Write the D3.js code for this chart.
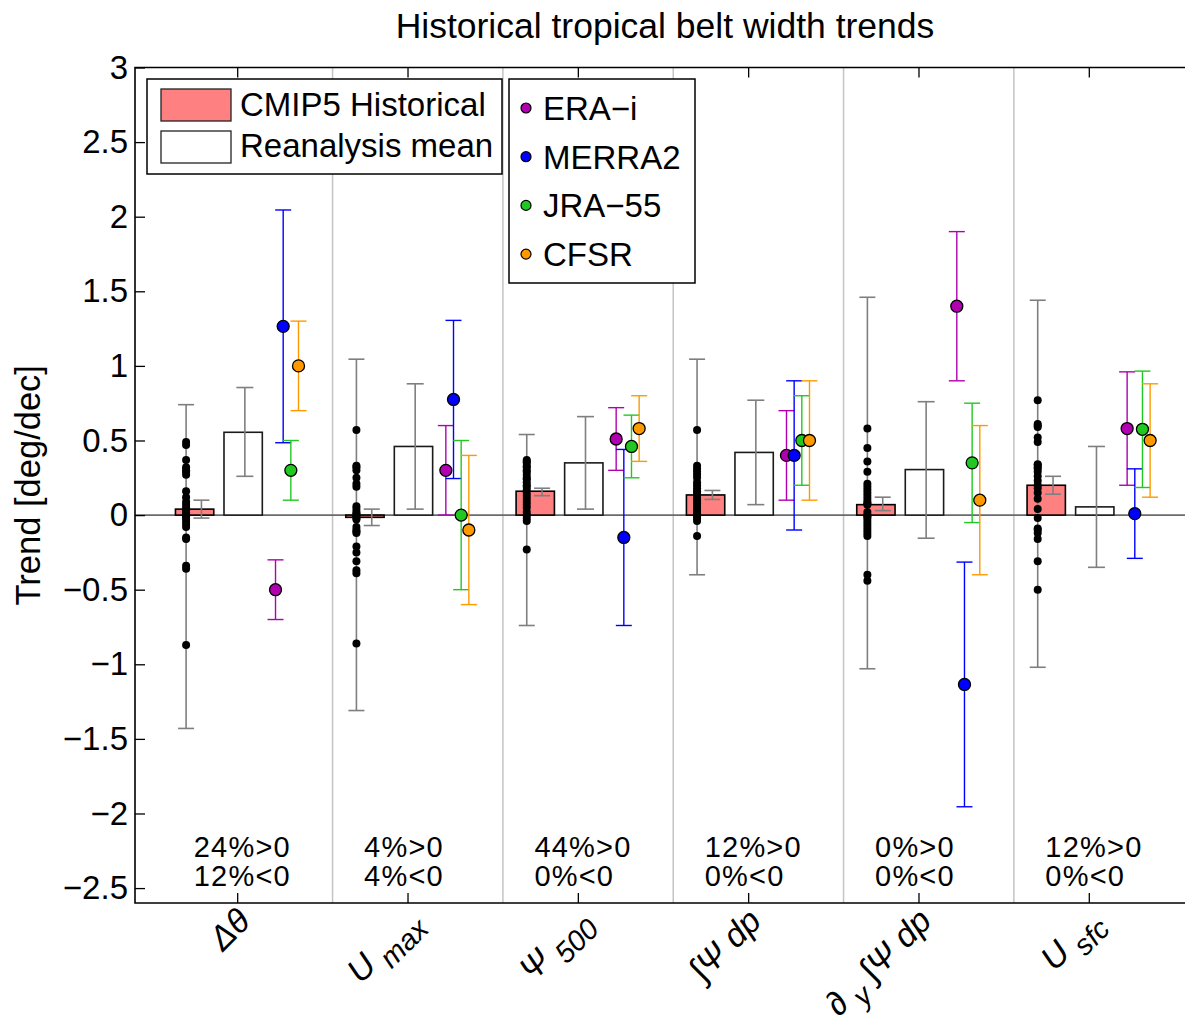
<!DOCTYPE html>
<html>
<head>
<meta charset="utf-8">
<script src="https://cdn.jsdelivr.net/npm/d3@7"></script>
<style>
  body { margin: 0; background: #fff; }
  svg { display: block; font-family: "Liberation Sans", Arial, Helvetica, sans-serif; }
</style>
</head>
<body>
<svg id="chart" width="1185" height="1016"></svg>
<script>
// ---- data -------------------------------------------------------------
// Tropical-belt metrics (underscore marks a subscript)
const categories = ["Δθ", "U_max", "Ψ_500", "∫Ψ dp", "∂_y ∫Ψ dp", "U_sfc"];

// Individual CMIP5 model trends [deg/dec], one list per metric
const modelTrends = [
  [0.49, 0.47, 0.37, 0.32, 0.30, 0.29, 0.27, 0.16, 0.12, 0.09, 0.07, 0.05, 0.03, 0.02, 0.01,
   -0.01, -0.02, -0.04, -0.06, -0.08, -0.15, -0.16, -0.34, -0.36, -0.87],
  [0.57, 0.33, 0.32, 0.30, 0.25, 0.21, 0.19, 0.06, 0.04, 0.02, 0.01, 0.00, -0.01, -0.02, -0.03,
   -0.08, -0.10, -0.11, -0.12, -0.21, -0.25, -0.31, -0.37, -0.39, -0.86],
  [0.37, 0.36, 0.35, 0.33, 0.32, 0.30, 0.29, 0.27, 0.25, 0.24, 0.22, 0.20, 0.19, 0.17, 0.15,
   0.13, 0.11, 0.09, 0.07, 0.05, 0.02, 0.00, -0.02, -0.04, -0.23],
  [0.57, 0.33, 0.31, 0.29, 0.27, 0.25, 0.22, 0.20, 0.18, 0.16, 0.15, 0.13, 0.11, 0.10, 0.08,
   0.07, 0.05, 0.04, 0.03, 0.02, 0.01, -0.01, -0.02, -0.04, -0.14],
  [0.58, 0.45, 0.36, 0.29, 0.21, 0.19, 0.17, 0.15, 0.13, 0.11, 0.09, 0.08, 0.07, 0.02, 0.00,
   -0.01, -0.02, -0.04, -0.06, -0.08, -0.10, -0.12, -0.14, -0.40, -0.44],
  [0.77, 0.61, 0.60, 0.59, 0.52, 0.49, 0.34, 0.335, 0.32, 0.31, 0.29, 0.26, 0.23, 0.20, 0.18,
   0.15, 0.11, 0.04, -0.02, -0.09, -0.10, -0.12, -0.16, -0.31, -0.50]
];

// Model spread whiskers (drawn through the dots)
const spreadLow  = [-1.43, -1.31, -0.74, -0.40, -1.03, -1.02];
const spreadHigh = [0.74, 1.045, 0.54, 1.045, 1.46, 1.44];

// CMIP5 multi-model mean and its uncertainty
const cmipMean    = [0.04, -0.015, 0.16, 0.135, 0.07, 0.20];
const cmipErrLow  = [-0.02, -0.07, 0.13, 0.105, 0.03, 0.14];
const cmipErrHigh = [0.10, 0.04, 0.18, 0.165, 0.12, 0.26];

// Reanalysis mean and its range
const reanMean    = [0.555, 0.46, 0.35, 0.42, 0.305, 0.055];
const reanErrLow  = [0.26, 0.04, 0.04, 0.07, -0.155, -0.35];
const reanErrHigh = [0.855, 0.88, 0.66, 0.77, 0.76, 0.46];

// Individual reanalyses: trend and half-width of the error bar
const reanNames  = ["ERA−i", "MERRA2", "JRA−55", "CFSR"];
const reanColors = ["#b000b0", "#0000ff", "#22c822", "#ff9900"];
const eraTrend    = [-0.50, 0.30, 0.51, 0.40, 1.40, 0.58];
const eraErr      = [0.20, 0.30, 0.21, 0.30, 0.50, 0.38];
const merraTrend  = [1.265, 0.775, -0.15, 0.40, -1.135, 0.01];
const merraErr    = [0.78, 0.53, 0.59, 0.50, 0.82, 0.30];
const jraTrend    = [0.30, 0.00, 0.46, 0.50, 0.35, 0.575];
const jraErr      = [0.20, 0.50, 0.21, 0.30, 0.40, 0.39];
const cfsrTrend   = [1.00, -0.10, 0.58, 0.50, 0.10, 0.50];
const cfsrErr     = [0.30, 0.50, 0.22, 0.40, 0.50, 0.38];

// Share of models with significant positive / negative trend
const pctPositive = ["24%>0", "4%>0", "44%>0", "12%>0", "0%>0", "12%>0"];
const pctNegative = ["12%<0", "4%<0", "0%<0", "0%<0", "0%<0", "0%<0"];

const yTicks = [-2.5, -2, -1.5, -1, -0.5, 0, 0.5, 1, 1.5, 2, 2.5, 3];
const legendBars = ["CMIP5 Historical", "Reanalysis mean"];

// ---- layout -----------------------------------------------------------
const svg = d3.select("#chart");
const W = 1185;
const plotLeft = 135, plotTop = 67.5, plotBottom = 903;
const x = d3.scaleLinear().domain([0.4, 6.6]).range([plotLeft, 1191]);
const y = d3.scaleLinear().domain([-2.6, 3]).range([plotBottom, plotTop]);
const unit = x(1) - x(0);

const FONT = 33;
const grey = "#7f7f7f";

// group separators
svg.append("g").selectAll("line").data(d3.range(1, 6)).join("line")
  .attr("x1", d => x(d + 0.56)).attr("x2", d => x(d + 0.56))
  .attr("y1", plotTop).attr("y2", plotBottom)
  .attr("stroke", "#c4c4c4").attr("stroke-width", 1.5);

// zero line
svg.append("line").attr("x1", plotLeft).attr("x2", W).attr("y1", y(0)).attr("y2", y(0))
  .attr("stroke", "#6a6a6a").attr("stroke-width", 1.6);

// ---- axes ---------------------------------------------------------------
const fmt = v => (v < 0 ? "−" : "") + Math.abs(v);
const yAxis = svg.append("g").attr("transform", `translate(${plotLeft},0)`)
  .call(d3.axisLeft(y).tickValues(yTicks).tickSize(-10).tickPadding(7).tickFormat(fmt));
yAxis.select(".domain").remove();
yAxis.selectAll(".tick line").attr("stroke", "#000").attr("stroke-width", 1.3);
yAxis.selectAll(".tick text").attr("font-size", FONT).attr("fill", "#000")
  .attr("font-family", "'Liberation Sans', Arial, sans-serif");

const xBottom = svg.append("g").attr("transform", `translate(0,${plotBottom})`)
  .call(d3.axisBottom(x).tickValues(d3.range(1, 7)).tickSize(-10).tickFormat(""));
xBottom.select(".domain").remove();
xBottom.selectAll(".tick line").attr("stroke", "#000").attr("stroke-width", 1.3);

const xTop = svg.append("g").attr("transform", `translate(0,${plotTop})`)
  .call(d3.axisTop(x).tickValues(d3.range(1, 7)).tickSize(-10).tickFormat(""));
xTop.select(".domain").remove();
xTop.selectAll(".tick line").attr("stroke", "#000").attr("stroke-width", 1.3);

// frame (left, bottom, top)
svg.append("path")
  .attr("d", `M${W},${plotTop}H${plotLeft}V${plotBottom}H${W}`)
  .attr("fill", "none").attr("stroke", "#000").attr("stroke-width", 1.6);

// rotated category labels with subscripts
categories.forEach((lab, i) => {
  const t = svg.append("text")
    .attr("transform", `translate(${x(i + 1) + 15},${923}) rotate(-45)`)
    .attr("text-anchor", "end").attr("font-size", 34).attr("font-style", "italic")
    .attr("fill", "#000");
  const parts = lab.split(/(_\w+)/).filter(s => s.length);
  let shifted = false;
  parts.forEach(p => {
    if (p.startsWith("_")) {
      t.append("tspan").attr("dy", 11).attr("font-size", 29).text(" " + p.slice(1));
      shifted = true;
    } else {
      const s = t.append("tspan").text(p);
      if (shifted) { s.attr("dy", -11); shifted = false; }
    }
  });
});

// ---- bars ---------------------------------------------------------------
const barW = 0.225 * unit;
svg.append("g").selectAll("rect").data(cmipMean).join("rect")
  .attr("x", (d, i) => x(i + 1 - 0.25) - barW / 2).attr("width", barW)
  .attr("y", d => y(Math.max(0, d))).attr("height", d => Math.abs(y(d) - y(0)))
  .attr("fill", "#ff8080").attr("stroke", "#000").attr("stroke-width", 1.6);

svg.append("g").selectAll("rect").data(reanMean).join("rect")
  .attr("x", (d, i) => x(i + 1 + 0.035) - barW / 2).attr("width", barW)
  .attr("y", d => y(Math.max(0, d))).attr("height", d => Math.abs(y(d) - y(0)))
  .attr("fill", "#fff").attr("stroke", "#1a1a1a").attr("stroke-width", 1.6);

// generic error bar
function errBar(g, cx, lo, hi, color, width, half) {
  g.append("line").attr("x1", cx).attr("x2", cx).attr("y1", y(lo)).attr("y2", y(hi))
    .attr("stroke", color).attr("stroke-width", width);
  [lo, hi].forEach(v => g.append("line")
    .attr("x1", cx - half).attr("x2", cx + half).attr("y1", y(v)).attr("y2", y(v))
    .attr("stroke", color).attr("stroke-width", width));
}

const errs = svg.append("g");
categories.forEach((c, i) => {
  errBar(errs, x(i + 1 - 0.21), cmipErrLow[i], cmipErrHigh[i], grey, 1.6, 8);
  errBar(errs, x(i + 1 + 0.045), reanErrLow[i], reanErrHigh[i], grey, 1.6, 8.5);
  errBar(errs, x(i + 1 - 0.30), spreadLow[i], spreadHigh[i], grey, 1.6, 8);
});

// individual model dots
const dots = svg.append("g");
modelTrends.forEach((vals, i) => {
  dots.append("g").selectAll("circle").data(vals).join("circle")
    .attr("cx", x(i + 1 - 0.30)).attr("cy", d => y(d)).attr("r", 4).attr("fill", "#000");
});

// ---- reanalyses ---------------------------------------------------------
const reanTrends = [eraTrend, merraTrend, jraTrend, cfsrTrend];
const reanErrs = [eraErr, merraErr, jraErr, cfsrErr];
const reanOffsets = [0.225, 0.27, 0.315, 0.36];
const rg = svg.append("g");
reanTrends.forEach((vals, k) => {
  vals.forEach((v, i) => {
    errBar(rg, x(i + 1 + reanOffsets[k]), v - reanErrs[k][i], v + reanErrs[k][i], reanColors[k], 1.4, 8);
  });
});
reanTrends.forEach((vals, k) => {
  rg.append("g").selectAll("circle").data(vals).join("circle")
    .attr("cx", (d, i) => x(i + 1 + reanOffsets[k])).attr("cy", d => y(d))
    .attr("r", 6).attr("fill", reanColors[k]).attr("stroke", "#000").attr("stroke-width", 1.3);
});

// ---- percentage annotations ---------------------------------------------
const pct = svg.append("g").attr("font-size", 29).attr("letter-spacing", 1.2).attr("fill", "#000");
pct.selectAll(".p").data(pctPositive).join("text").attr("class", "p")
  .attr("x", (d, i) => x(i + 1 - 0.255)).attr("y", 857).text(d => d);
pct.selectAll(".n").data(pctNegative).join("text").attr("class", "n")
  .attr("x", (d, i) => x(i + 1 - 0.255)).attr("y", 886).text(d => d);

// ---- legends ------------------------------------------------------------
const lg1 = svg.append("g");
lg1.append("rect").attr("x", 147).attr("y", 79).attr("width", 355).attr("height", 95)
  .attr("fill", "#fff").attr("stroke", "#000").attr("stroke-width", 1.5);
const barFills = ["#ff8080", "#fff"];
legendBars.forEach((name, k) => {
  lg1.append("rect").attr("x", 161).attr("y", 89 + k * 42).attr("width", 70).attr("height", 32)
    .attr("fill", barFills[k]).attr("stroke", "#222").attr("stroke-width", 1.3);
  lg1.append("text").attr("x", 240).attr("y", 116 + k * 41).attr("font-size", 33)
    .attr("fill", "#000").text(name);
});

const lg2 = svg.append("g");
lg2.append("rect").attr("x", 509).attr("y", 79).attr("width", 186).attr("height", 204)
  .attr("fill", "#fff").attr("stroke", "#000").attr("stroke-width", 1.5);
reanNames.forEach((name, k) => {
  const cy = 108 + k * 48.7;
  lg2.append("circle").attr("cx", 526).attr("cy", cy).attr("r", 5)
    .attr("fill", reanColors[k]).attr("stroke", "#000").attr("stroke-width", 1.2);
  lg2.append("text").attr("x", 543).attr("y", cy + 12).attr("font-size", 33)
    .attr("fill", "#000").text(name);
});

// ---- titles ---------------------------------------------------------------
svg.append("text").attr("x", 665).attr("y", 38).attr("text-anchor", "middle")
  .attr("font-size", 35.5).attr("fill", "#000").text("Historical tropical belt width trends");
svg.append("text").attr("transform", `translate(40,${(plotTop + plotBottom) / 2}) rotate(-90)`)
  .attr("text-anchor", "middle").attr("font-size", 34.5).attr("fill", "#000")
  .text("Trend [deg/dec]");
</script>
</body>
</html>
